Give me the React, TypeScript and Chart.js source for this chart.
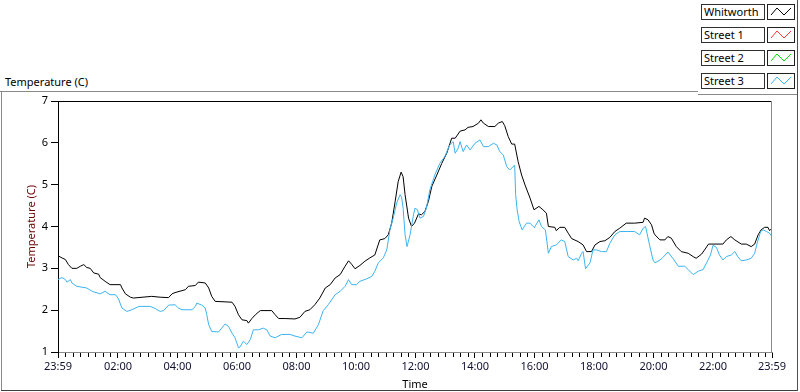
import React, { useEffect, useRef } from 'react';
import { Chart, registerables } from 'chart.js';

Chart.register(...registerables);

// x values are minutes after 23:59 (start of the day)
const tickMinutes = [0, 121, 241, 361, 481, 601, 721, 841, 961, 1081, 1201, 1321, 1440];
const tickLabels = ['23:59', '02:00', '04:00', '06:00', '08:00', '10:00', '12:00', '14:00', '16:00', '18:00', '20:00', '22:00', '23:59'];
const yTicks = [1, 2, 3, 4, 5, 6, 7];

const legendLabels = ['Whitworth', 'Street 1', 'Street 2', 'Street 3'];
const legendColors = ['#000000', '#ff3a3a', '#00e000', '#3cb4f0'];

const whitworthMinutes = [
  0, 8, 15, 21, 28, 38, 45, 52, 58, 65, 72, 82, 85, 95, 105, 126, 129, 136, 146, 152, 189, 206, 223, 230, 236,
  257, 263, 277, 283, 297, 304, 310, 317, 351, 357, 364, 371, 381, 384, 391, 398, 408, 431, 438, 445, 458, 478,
  488, 498, 508, 518, 528, 539, 549, 559, 569, 579, 586, 592, 599, 609, 619, 629, 639, 649, 659, 666, 673, 680,
  686, 692, 696, 700, 707, 713, 719, 727, 733, 740, 747, 754, 764, 774, 784, 794, 801, 811, 821, 827, 837, 848,
  853, 858, 868, 881, 888, 896, 901, 908, 915, 921, 928, 935, 942, 952, 960, 970, 978, 985, 989, 1002, 1005,
  1012, 1022, 1029, 1036, 1049, 1059, 1066, 1076, 1083, 1093, 1103, 1113, 1123, 1133, 1146, 1163, 1180, 1183,
  1190, 1197, 1202, 1204, 1214, 1224, 1230, 1237, 1247, 1257, 1271, 1281, 1287, 1298, 1304, 1312, 1341, 1348,
  1357, 1365, 1378, 1388, 1398, 1405, 1412, 1418, 1425, 1432, 1435, 1440,
];
const whitworthTemps = [
  3.30, 3.25, 3.21, 3.09, 3.00, 3.00, 3.05, 3.09, 3.02, 3.00, 2.89, 2.86, 2.78, 2.69, 2.61, 2.61, 2.53, 2.39, 2.31, 2.29, 2.33, 2.31, 2.30, 2.39, 2.42,
  2.49, 2.57, 2.59, 2.67, 2.65, 2.53, 2.33, 2.21, 2.19, 2.09, 1.89, 1.77, 1.75, 1.69, 1.80, 1.89, 1.99, 1.99, 1.89, 1.80, 1.80, 1.79,
  1.83, 1.97, 2.01, 2.13, 2.29, 2.53, 2.61, 2.77, 2.85, 3.05, 3.18, 3.10, 2.99, 3.07, 3.17, 3.25, 3.32, 3.68, 3.71, 3.80, 4.08, 4.60,
  5.07, 5.30, 5.19, 4.76, 4.20, 4.00, 4.08, 4.30, 4.28, 4.36, 4.60, 4.96, 5.23, 5.51, 5.75, 6.11, 6.11, 6.28, 6.31, 6.37, 6.39, 6.47,
  6.55, 6.47, 6.39, 6.39, 6.47, 6.51, 6.41, 6.15, 5.97, 5.97, 5.55, 5.23, 4.99, 4.68, 4.40, 4.48, 4.40, 4.32, 4.00, 3.98, 3.90,
  3.98, 3.98, 3.84, 3.71, 3.64, 3.56, 3.40, 3.40, 3.56, 3.64, 3.66, 3.74, 3.88, 3.96, 4.08, 4.08, 4.10, 4.20,
  4.16, 4.04, 3.84, 3.80, 3.68, 3.68, 3.76, 3.72, 3.52, 3.40, 3.36, 3.28, 3.24, 3.34, 3.44, 3.58, 3.58, 3.68,
  3.76, 3.68, 3.58, 3.58, 3.52, 3.58, 3.80, 3.92, 3.98, 3.98, 3.90, 3.96,
];

const street1Minutes: number[] = [];
const street1Temps: number[] = [];
const street2Minutes: number[] = [];
const street2Temps: number[] = [];

const street3Minutes = [
  0, 8, 15, 18, 25, 28, 38, 58, 69, 85, 95, 105, 116, 122, 129, 139, 149, 163, 186, 196, 206, 213, 223, 236,
  243, 250, 270, 277, 280, 290, 297, 300, 304, 310, 324, 330, 337, 344, 351, 357, 364, 367, 374, 377, 381, 388,
  394, 404, 414, 421, 428, 438, 451, 468, 478, 492, 502, 515, 525, 535, 545, 559, 569, 579, 586, 592, 602, 609,
  623, 633, 639, 646, 656, 663, 670, 676, 683, 690, 693, 696, 700, 704, 710, 717, 720, 725, 730, 737, 743, 750,
  760, 770, 780, 790, 797, 801, 807, 811, 817, 824, 831, 841, 851, 858, 868, 878, 885, 891, 898, 905, 911, 921,
  923, 926, 930, 936, 945, 952, 960, 962, 970, 975, 983, 989, 995, 1005, 1015, 1022, 1029, 1039, 1046, 1049,
  1056, 1059, 1064, 1073, 1079, 1086, 1096, 1106, 1113, 1123, 1133, 1163, 1173, 1180, 1185, 1193, 1200, 1204,
  1214, 1220, 1230, 1240, 1251, 1264, 1271, 1281, 1291, 1301, 1308, 1316, 1321, 1328, 1334, 1341, 1348, 1358,
  1365, 1371, 1378, 1388, 1398, 1405, 1410, 1417, 1422, 1429, 1435, 1440,
];
const street3Temps = [
  2.73, 2.78, 2.73, 2.67, 2.73, 2.65, 2.57, 2.53, 2.45, 2.39, 2.45, 2.37, 2.37, 2.27, 2.05, 1.97, 2.01, 2.09, 2.09, 2.04, 1.97, 1.99, 2.12, 2.13,
  2.05, 2.01, 2.01, 2.09, 2.17, 2.12, 2.05, 1.89, 1.65, 1.49, 1.48, 1.57, 1.67, 1.61, 1.45, 1.34, 1.10, 1.12, 1.26, 1.22, 1.18, 1.30,
  1.53, 1.53, 1.57, 1.53, 1.38, 1.34, 1.42, 1.42, 1.38, 1.34, 1.48, 1.45, 1.65, 1.99, 2.13, 2.37, 2.45, 2.57, 2.73, 2.61, 2.61, 2.69,
  2.75, 2.81, 2.93, 3.13, 3.25, 3.44, 3.96, 4.20, 4.56, 4.76, 4.70, 4.44, 3.80, 3.52, 3.80, 4.28, 4.44, 4.40, 4.20, 4.24, 4.44, 4.88,
  5.23, 5.51, 5.67, 5.95, 6.03, 5.75, 5.87, 6.03, 5.79, 5.95, 5.83, 5.99, 6.07, 5.91, 5.91, 5.99, 5.95, 5.79, 5.71, 5.43, 5.35, 5.47,
  4.76, 4.40, 4.12, 3.92, 4.08, 4.08, 3.98, 4.00, 4.16, 4.00, 3.92, 3.36, 3.52, 3.56, 3.68, 3.64, 3.28, 3.20, 3.24, 3.18,
  3.36, 3.40, 2.99, 3.13, 3.44, 3.44, 3.40, 3.40, 3.60, 3.80, 3.88, 3.88, 3.80, 3.96, 4.00, 3.56, 3.20, 3.13,
  3.20, 3.26, 3.39, 3.24, 3.05, 3.05, 2.97, 2.85, 2.93, 2.97, 3.13, 3.32, 3.55, 3.50, 3.32, 3.20, 3.28, 3.32,
  3.40, 3.28, 3.18, 3.20, 3.24, 3.36, 3.60, 3.88, 3.92, 3.88, 3.84, 3.76,
];

const seriesMinutes = [whitworthMinutes, street1Minutes, street2Minutes, street3Minutes];
const seriesTemps = [whitworthTemps, street1Temps, street2Temps, street3Temps];

// minor tick positions: every 15 minutes between major ticks
const minorTicks: number[] = [];
for (let i = 0; i < tickMinutes.length - 1; i++) {
  for (let m = tickMinutes[i] + 15; m < tickMinutes[i + 1] - 5; m += 15) minorTicks.push(m);
}

const FONT = "'Noto Sans', 'DejaVu Sans', sans-serif";

const framePlugin = {
  id: 'lvFrame',
  afterDraw(chart: any) {
    const { ctx, chartArea } = chart;
    const { left, right, top, bottom } = chartArea;
    const x = chart.scales.x;
    ctx.save();
    ctx.lineWidth = 1;
    ctx.strokeStyle = '#000000';
    ctx.beginPath();
    ctx.moveTo(left, Math.round(top) + 0.5);
    ctx.lineTo(right, Math.round(top) + 0.5);
    ctx.stroke();
    ctx.strokeStyle = '#8a8a8a';
    ctx.beginPath();
    ctx.moveTo(Math.round(right) - 0.5, top);
    ctx.lineTo(Math.round(right) - 0.5, bottom);
    ctx.stroke();
    ctx.strokeStyle = '#000000';
    ctx.beginPath();
    for (const m of minorTicks) {
      const px = Math.round(x.getPixelForValue(m)) + 0.5;
      ctx.moveTo(px, bottom + 1);
      ctx.lineTo(px, bottom + 5);
    }
    ctx.stroke();
    ctx.restore();
  },
};

function LegendIcon({ color }: { color: string }) {
  return (
    <svg width={25} height={13} style={{ display: 'block' }}>
      <polyline points="3,10 9,3 16,10 23,3" fill="none" stroke={color} strokeWidth={1} />
    </svg>
  );
}

export default function App() {
  const canvasRef = useRef<HTMLCanvasElement | null>(null);

  useEffect(() => {
    document.body.style.margin = '0';
    const canvas = canvasRef.current;
    if (!canvas) return;
    const datasets = legendLabels.map((label, i) => ({
      label,
      data: seriesMinutes[i].map((m, j) => ({ x: m, y: seriesTemps[i][j] })),
      borderColor: legendColors[i],
      backgroundColor: legendColors[i],
      borderWidth: 1,
      pointRadius: 0,
      tension: 0,
      fill: false,
      order: legendLabels.length - i,
    }));
    const chart = new Chart(canvas, {
      type: 'line',
      data: { datasets },
      options: {
        animation: false,
        responsive: false,
        maintainAspectRatio: false,
        parsing: false as any,
        normalized: true,
        layout: { padding: { left: 0, top: 101, right: 28, bottom: 0 } },
        plugins: {
          legend: { display: false },
          tooltip: { enabled: false },
          title: { display: false },
        },
        scales: {
          x: {
            type: 'linear',
            min: 0,
            max: 1440,
            afterBuildTicks: (s: any) => {
              s.ticks = tickMinutes.map((v) => ({ value: v }));
            },
            afterFit: (s: any) => {
              s.height = 40;
            },
            ticks: {
              autoSkip: false,
              maxRotation: 0,
              minRotation: 0,
              padding: 2,
              color: '#101030',
              font: { family: FONT, size: 11 },
              callback: (v: any) => tickLabels[tickMinutes.indexOf(Number(v))] ?? '',
            },
            grid: { drawOnChartArea: false, drawTicks: true, tickLength: 6, tickColor: '#000000' },
            border: { color: '#8a8a8a', width: 1 },
            title: {
              display: true,
              text: 'Time',
              color: '#000000',
              font: { family: FONT, size: 11 },
              padding: { top: 0, bottom: 1 },
            },
          },
          y: {
            type: 'linear',
            min: 1,
            max: 7,
            afterBuildTicks: (s: any) => {
              s.ticks = yTicks.map((v) => ({ value: v }));
            },
            afterFit: (s: any) => {
              s.width = 58;
            },
            ticks: {
              padding: 3,
              color: '#000000',
              font: { family: FONT, size: 11 },
            },
            grid: { drawOnChartArea: false, drawTicks: true, tickLength: 7, tickColor: '#000000' },
            border: { color: '#000000', width: 1 },
            title: {
              display: true,
              text: 'Temperature (C)',
              color: '#6a0000',
              font: { family: FONT, size: 11 },
              padding: { top: 25, bottom: 0 },
            },
          },
        },
      },
      plugins: [framePlugin],
    });
    return () => chart.destroy();
  }, []);

  return (
    <div style={{ position: 'relative', width: 800, height: 392, background: '#ffffff', fontFamily: FONT, overflow: 'hidden' }}>
      {/* outer frame */}
      <div style={{ position: 'absolute', left: 0, top: 91, width: 698, height: 0, borderTop: '1px solid #8a8a8a' }} />
      <div style={{ position: 'absolute', left: 698, top: 94, width: 100, height: 0, borderTop: '1px solid #8a8a8a' }} />
      <div style={{ position: 'absolute', left: 1, top: 91, width: 0, height: 299, borderLeft: '1px solid #8a8a8a' }} />
      <div style={{ position: 'absolute', left: 1, top: 390, width: 797, height: 0, borderTop: '1px solid #404040' }} />
      <div style={{ position: 'absolute', left: 797, top: 0, width: 0, height: 391, borderLeft: '1px solid #505050' }} />
      <div style={{ position: 'absolute', left: 5, top: 74, fontSize: 11, color: '#000', whiteSpace: 'nowrap' }}>Temperature (C)</div>
      {legendLabels.map((label, i) => (
        <React.Fragment key={label}>
          <div
            style={{
              position: 'absolute',
              left: 701,
              top: 4 + 23 * i,
              width: 60,
              height: 14,
              border: '1px solid #303030',
              fontSize: 11,
              lineHeight: '14px',
              paddingLeft: 2,
              boxSizing: 'content-box',
              color: '#000',
              whiteSpace: 'nowrap',
              overflow: 'hidden',
              background: '#fff',
            }}
          >
            {label}
          </div>
          <div
            style={{
              position: 'absolute',
              left: 767,
              top: 4 + 23 * i,
              width: 26,
              height: 14,
              border: '1px solid #202020',
              background: '#fff',
            }}
          >
            <LegendIcon color={legendColors[i]} />
          </div>
        </React.Fragment>
      ))}
      <canvas ref={canvasRef} width={800} height={392} style={{ position: 'absolute', left: 0, top: 0, width: 800, height: 392 }} />
    </div>
  );
}
